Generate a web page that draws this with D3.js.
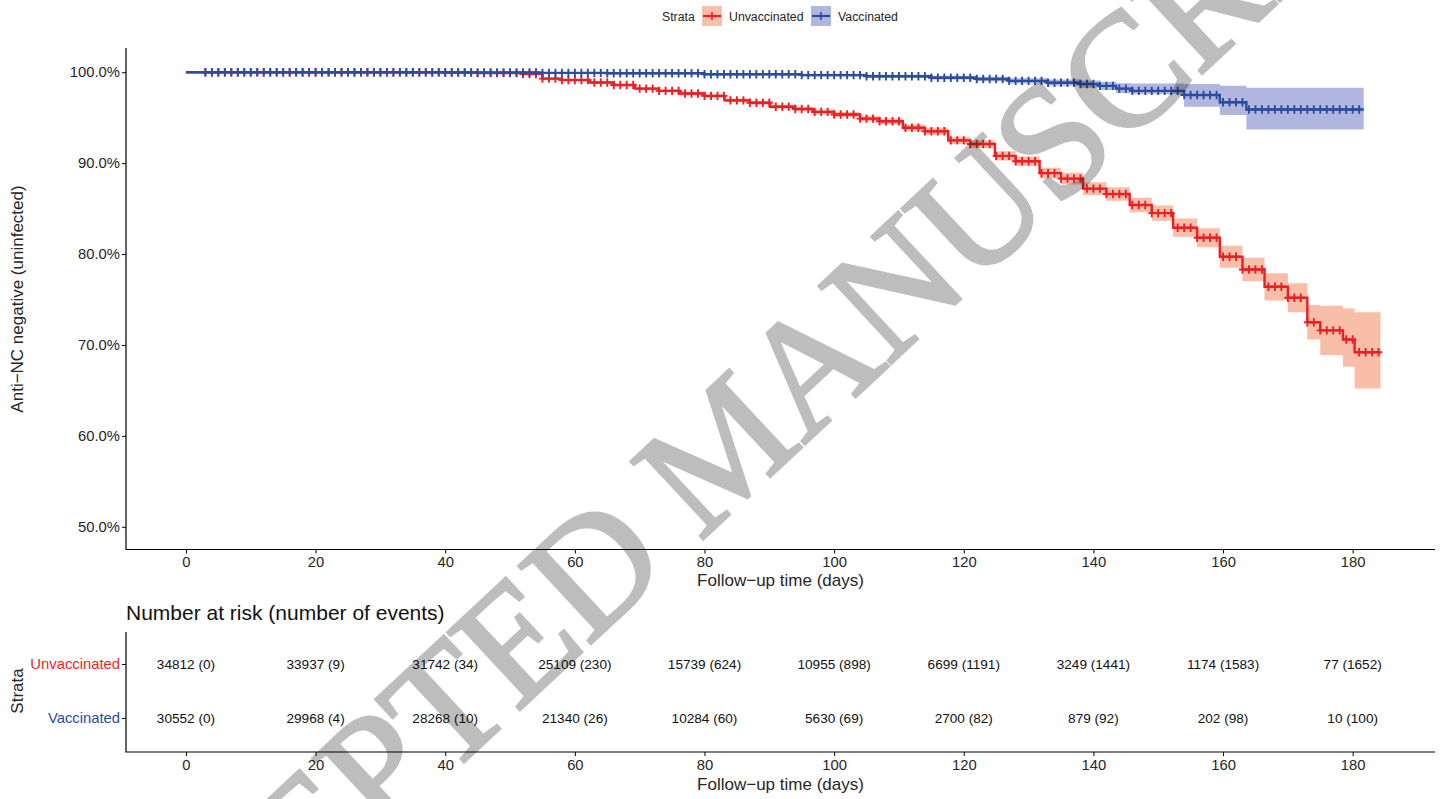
<!DOCTYPE html>
<html>
<head>
<meta charset="utf-8">
<script src="https://cdn.jsdelivr.net/npm/d3@7"></script>
<style>
  body { margin: 0; background: #fff; }
  svg { display: block; }
  text { font-family: "Liberation Sans", Arial, Helvetica, sans-serif; }
</style>
</head>
<body>
<svg id="chart" width="1443" height="799"></svg>
<script>
// ---- data ----
const strata = ["Unvaccinated", "Vaccinated"];
const timeTicks = [0, 20, 40, 60, 80, 100, 120, 140, 160, 180];
const survTicks = [50, 60, 70, 80, 90, 100];

// Kaplan-Meier steps, unvaccinated (time in days, survival in %)
const unvaxTime  = [0, 30, 45, 52, 55, 58, 62.3, 66, 69.3, 73, 76.2, 80, 83.1, 87, 90.1, 94, 96.7, 100, 104, 107, 110.6, 114, 117.6, 121, 124.8, 128, 131.7, 135, 138.4, 142, 145.6, 149, 152.3, 156, 159.5, 163, 166.4, 170, 173, 175, 178.5, 180.3];
const unvaxSurv  = [100, 99.98, 99.9, 99.8, 99.3, 99.15, 98.87, 98.6, 98.2, 97.95, 97.66, 97.4, 96.9, 96.65, 96.2, 95.95, 95.64, 95.35, 94.9, 94.6, 93.9, 93.5, 92.5, 92.1, 90.8, 90.2, 88.9, 88.3, 87.2, 86.6, 85.4, 84.5, 82.9, 81.8, 79.7, 78.3, 76.4, 75.2, 72.5, 71.6, 70.6, 69.2];
const unvaxLower = [100, 99.96, 99.86, 99.74, 99.2, 99.04, 98.74, 98.46, 98.04, 97.78, 97.48, 97.2, 96.7, 96.43, 95.97, 95.7, 95.38, 95.07, 94.6, 94.28, 93.55, 93.12, 92.1, 91.67, 90.3, 89.68, 88.3, 87.66, 86.5, 85.86, 84.6, 83.65, 81.9, 80.75, 78.5, 77.0, 74.9, 73.6, 70.6, 68.9, 67.6, 65.2];
const unvaxUpper = [100, 100, 99.94, 99.86, 99.4, 99.26, 99.0, 98.74, 98.36, 98.12, 97.84, 97.6, 97.1, 96.87, 96.43, 96.2, 95.9, 95.63, 95.2, 94.92, 94.25, 93.88, 92.9, 92.53, 91.3, 90.72, 89.5, 88.94, 87.9, 87.34, 86.2, 85.35, 83.9, 82.85, 80.9, 79.6, 77.9, 76.8, 74.4, 74.3, 74.0, 73.6];
const unvaxEnd = 184.3;

// Kaplan-Meier steps, vaccinated
const vaxTime  = [0, 20, 40, 55, 65, 80, 95, 105, 115, 122, 127, 133, 138, 141, 143.5, 146, 154, 159.5, 163.6];
const vaxSurv  = [100, 99.99, 99.97, 99.93, 99.88, 99.78, 99.68, 99.56, 99.4, 99.25, 99.05, 98.85, 98.7, 98.5, 98.2, 97.95, 97.5, 96.7, 95.9];
const vaxLower = [100, 99.97, 99.93, 99.87, 99.8, 99.67, 99.54, 99.4, 99.2, 99.0, 98.75, 98.5, 98.3, 98.05, 97.7, 97.6, 96.2, 95.3, 93.7];
const vaxUpper = [100, 100, 100, 99.99, 99.96, 99.89, 99.82, 99.72, 99.6, 99.5, 99.35, 99.2, 99.1, 98.95, 98.8, 98.75, 98.7, 98.5, 98.3];
const vaxEnd = 181.7;

// censoring marks are shown on every day from day 3 (cut at each curve's end)
const censorDays = [3, 4, 5, 6, 7, 8, 9, 10, 11, 12, 13, 14, 15, 16, 17, 18, 19, 20, 21, 22, 23, 24, 25, 26, 27, 28, 29, 30,
  31, 32, 33, 34, 35, 36, 37, 38, 39, 40, 41, 42, 43, 44, 45, 46, 47, 48, 49, 50, 51, 52, 53, 54, 55, 56, 57, 58, 59, 60,
  61, 62, 63, 64, 65, 66, 67, 68, 69, 70, 71, 72, 73, 74, 75, 76, 77, 78, 79, 80, 81, 82, 83, 84, 85, 86, 87, 88, 89, 90,
  91, 92, 93, 94, 95, 96, 97, 98, 99, 100, 101, 102, 103, 104, 105, 106, 107, 108, 109, 110, 111, 112, 113, 114, 115, 116,
  117, 118, 119, 120, 121, 122, 123, 124, 125, 126, 127, 128, 129, 130, 131, 132, 133, 134, 135, 136, 137, 138, 139, 140,
  141, 142, 143, 144, 145, 146, 147, 148, 149, 150, 151, 152, 153, 154, 155, 156, 157, 158, 159, 160, 161, 162, 163, 164,
  165, 166, 167, 168, 169, 170, 171, 172, 173, 174, 175, 176, 177, 178, 179, 180, 181, 182, 183, 184];

// number at risk (number of events) at the time ticks
const atRiskUnvax  = [34812, 33937, 31742, 25109, 15739, 10955, 6699, 3249, 1174, 77];
const eventsUnvax  = [0, 9, 34, 230, 624, 898, 1191, 1441, 1583, 1652];
const atRiskVax    = [30552, 29968, 28268, 21340, 10284, 5630, 2700, 879, 202, 10];
const eventsVax    = [0, 4, 10, 26, 60, 69, 82, 92, 98, 100];

const watermark = "ACCEPTED MANUSCRIPT";

// ---- styles ----
const lineColor = { Unvaccinated: "#EC1F26", Vaccinated: "#2B4C9F" };
const bandColor = { Unvaccinated: "#F8BEA8", Vaccinated: "#B1B6DF" };
const textColor = "#262626";

const svg = d3.select("#chart");

const x = d3.scaleLinear().domain([-9.25, 192.7]).range([126, 1435]);
const y = d3.scaleLinear().domain([47.5, 102.5]).range([549.5, 49.5]);

function buildSeries(name, times, surv, lower, upper, end) {
  var pts = times.map(function (t, i) {
    return { t: t, s: surv[i], lo: lower[i], hi: upper[i] };
  });
  var last = pts[pts.length - 1];
  pts.push({ t: end, s: last.s, lo: last.lo, hi: last.hi });
  return { name: name, pts: pts, end: end };
}

const series = [
  buildSeries("Unvaccinated", unvaxTime, unvaxSurv, unvaxLower, unvaxUpper, unvaxEnd),
  buildSeries("Vaccinated", vaxTime, vaxSurv, vaxLower, vaxUpper, vaxEnd)
];

function survAt(pts, t) {
  var v = pts[0].s;
  pts.forEach(function (p) { if (p.t <= t) v = p.s; });
  return v;
}

const area = d3.area()
  .curve(d3.curveStepAfter)
  .x(d => x(d.t))
  .y0(d => y(d.lo))
  .y1(d => y(d.hi));

const line = d3.line()
  .curve(d3.curveStepAfter)
  .x(d => x(d.t))
  .y(d => y(d.s));

const plot = svg.append("g");

plot.selectAll(".band").data(series).join("path")
  .attr("class", "band")
  .attr("d", d => area(d.pts))
  .attr("fill", d => bandColor[d.name]);

const curves = plot.selectAll(".curve").data(series).join("g").attr("class", "curve");

curves.append("path")
  .attr("d", d => line(d.pts))
  .attr("fill", "none")
  .attr("stroke", d => lineColor[d.name])
  .attr("stroke-width", 2.4);

curves.each(function (d) {
  d3.select(this).selectAll(".censor")
    .data(censorDays.filter(c => c <= d.end))
    .join("path")
    .attr("class", "censor")
    .attr("transform", c => "translate(" + x(c) + "," + y(survAt(d.pts, c)) + ")")
    .attr("d", "M-3.5,0H3.5M0,-4.2V4.2")
    .attr("stroke", lineColor[d.name])
    .attr("stroke-width", 1.9);
});

// axes of the survival panel
function styleAxis(g) {
  g.selectAll("path.domain").remove();
  g.selectAll(".tick line").attr("stroke", "#000").attr("stroke-width", 1);
  g.selectAll(".tick text").attr("fill", textColor).style("font-size", "14.8px");
}

svg.append("g")
  .attr("transform", "translate(126,0)")
  .call(d3.axisLeft(y).tickValues(survTicks).tickFormat(d => d.toFixed(1) + "%").tickSize(4).tickPadding(2))
  .call(styleAxis);

svg.append("g")
  .attr("transform", "translate(0,549.5)")
  .call(d3.axisBottom(x).tickValues(timeTicks).tickSize(4).tickPadding(3))
  .call(styleAxis);

svg.append("path")
  .attr("d", "M126,48V549.5H1435")
  .attr("fill", "none").attr("stroke", "#000").attr("stroke-width", 1.2);

svg.append("text")
  .attr("x", 780.5).attr("y", 586)
  .attr("text-anchor", "middle")
  .style("font-size", "17px").attr("fill", textColor)
  .text("Follow\u2212up time (days)");

svg.append("text")
  .attr("transform", "translate(23,299) rotate(-90)")
  .attr("text-anchor", "middle")
  .style("font-size", "17px").attr("fill", textColor)
  .text("Anti\u2212NC negative (uninfected)");

// legend
const legend = svg.append("g").attr("transform", "translate(0,16)");
legend.append("text")
  .attr("x", 662).attr("y", 4.5)
  .style("font-size", "12.3px").attr("fill", textColor)
  .text("Strata");
const keyX = { Unvaccinated: 702, Vaccinated: 811 };
strata.forEach(function (s) {
  var k = legend.append("g").attr("transform", "translate(" + keyX[s] + ",0)");
  k.append("rect").attr("x", 0).attr("y", -10).attr("width", 20).attr("height", 20)
    .attr("fill", bandColor[s]);
  k.append("path").attr("d", "M1,0H19").attr("stroke", lineColor[s]).attr("stroke-width", 2.2);
  k.append("path").attr("d", "M10,-4V4").attr("stroke", lineColor[s]).attr("stroke-width", 1.6);
  k.append("text").attr("x", 27).attr("y", 4.5)
    .style("font-size", "12.3px").attr("fill", textColor)
    .text(s);
});

// ---- risk table ----
svg.append("text")
  .attr("x", 126).attr("y", 620)
  .style("font-size", "21px").attr("fill", "#111")
  .text("Number at risk (number of events)");

const yRow = d3.scalePoint().domain(strata).range([664, 718]);

const riskRows = [
  { name: "Unvaccinated", n: atRiskUnvax, ev: eventsUnvax },
  { name: "Vaccinated", n: atRiskVax, ev: eventsVax }
];

const table = svg.append("g");
riskRows.forEach(function (r) {
  table.selectAll(null).data(timeTicks).join("text")
    .attr("x", d => x(d))
    .attr("y", yRow(r.name))
    .attr("dy", "0.36em")
    .attr("text-anchor", "middle")
    .style("font-size", "13.6px").attr("fill", "#111")
    .text((d, i) => r.n[i] + " (" + r.ev[i] + ")");
});

const rowAxis = svg.append("g")
  .attr("transform", "translate(126,0)")
  .call(d3.axisLeft(yRow).tickSize(4).tickPadding(2))
  .call(styleAxis);
rowAxis.selectAll(".tick text")
  .attr("fill", d => lineColor[d])
  .style("font-size", "14.8px");

svg.append("g")
  .attr("transform", "translate(0,752)")
  .call(d3.axisBottom(x).tickValues(timeTicks).tickSize(4).tickPadding(3))
  .call(styleAxis);

svg.append("path")
  .attr("d", "M126,632V752H1435")
  .attr("fill", "none").attr("stroke", "#000").attr("stroke-width", 1.2);

svg.append("text")
  .attr("x", 780.5).attr("y", 790)
  .attr("text-anchor", "middle")
  .style("font-size", "17px").attr("fill", textColor)
  .text("Follow\u2212up time (days)");

svg.append("text")
  .attr("transform", "translate(23,691) rotate(-90)")
  .attr("text-anchor", "middle")
  .style("font-size", "17px").attr("fill", textColor)
  .text("Strata");

// watermark on top, semi-transparent
svg.append("g")
  .attr("opacity", 0.255)
  .append("text")
  .attr("transform", "translate(760,486) rotate(-43)")
  .attr("text-anchor", "middle")
  .style("font-family", "'Liberation Serif', 'Times New Roman', serif")
  .style("font-size", "162px")
  .style("letter-spacing", "-2px")
  .attr("fill", "#000")
  .attr("stroke", "#000")
  .attr("stroke-width", 3)
  .text(watermark);
</script>
</body>
</html>
